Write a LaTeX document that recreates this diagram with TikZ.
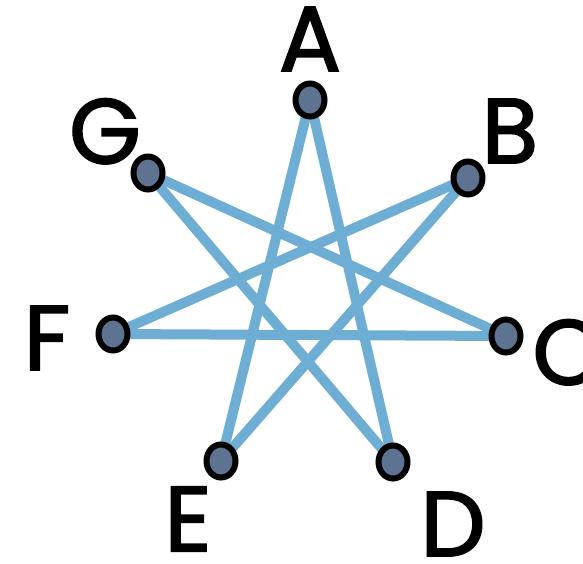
\documentclass[tikz,border=0pt]{standalone}
\usepackage{fontspec}
\setmainfont{Poppins}
\newfontfamily\labfont[FakeBold=2]{Poppins}
\begin{document}
\begin{tikzpicture}[x=1pt,y=-1pt,
  edge/.style={draw=edgeblue,line width=10pt},
  vert/.style={draw=black,line width=6pt,fill=nodefill},
  lab/.style={font=\labfont\fontsize{92}{92}\selectfont,inner sep=0pt,text depth=0pt,anchor=center}]
\definecolor{edgeblue}{HTML}{6FAED4}
\definecolor{nodefill}{HTML}{5E7391}
\useasboundingbox (0,0) rectangle (583,563);
\coordinate (A) at (310,100);
\coordinate (B) at (468,178);
\coordinate (C) at (506,336);
\coordinate (D) at (393,462);
\coordinate (E) at (221,461);
\coordinate (F) at (113,334);
\coordinate (G) at (148,173);
\draw[edge] (A) -- (D);
\draw[edge] (A) -- (E);
\draw[edge] (B) -- (E);
\draw[edge] (B) -- (F);
\draw[edge] (C) -- (F);
\draw[edge] (C) -- (G);
\draw[edge] (D) -- (G);
\foreach \n in {A,B,C,D,E,F,G}{
  \draw[vert] (\n) ellipse [x radius=14.5, y radius=16.5];
}
\node[lab] (la) at (310,39) {A};
\node[lab] (lb) at (510,131) {B};
\node[lab] (lc) at (568,352) {C};
\node[lab] (ld) at (453,524) {D};
\node[lab] (le) at (188,519) {E};
\node[lab] (lf) at (47,338) {F};
\node[lab] (lg) at (105,131) {G};
\end{tikzpicture}
\end{document}
